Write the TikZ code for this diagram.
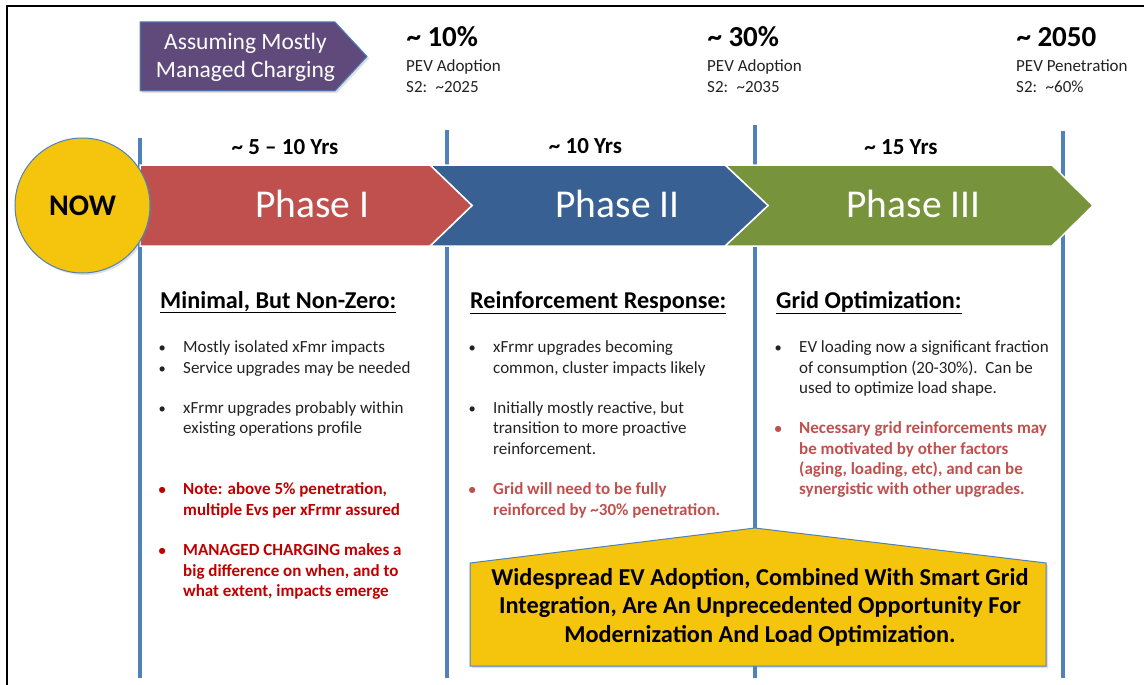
\documentclass[tikz,border=0pt]{standalone}
\usepackage{fontspec}
\setmainfont{Carlito}
\usetikzlibrary{shadows}
\definecolor{phasered}{HTML}{C0504D}
\definecolor{phaseblue}{HTML}{386092}
\definecolor{phasegreen}{HTML}{77933C}
\definecolor{nowgold}{HTML}{F5C40C}
\definecolor{markblue}{HTML}{4F81BD}
\definecolor{purplebox}{HTML}{604A7B}
\definecolor{darkred}{HTML}{C00000}
\definecolor{softred}{HTML}{C0504D}
\definecolor{bodygray}{HTML}{222222}
\newcommand\stack[2][l]{\begin{tabular}[t]{@{}#1@{}}#2\end{tabular}}
\newcommand\bul{\makebox[21pt][l]{\makebox[0pt]{\fontsize{14.5}{14.5}\selectfont\textbullet}}}
\newcommand\ind{\hspace*{21pt}}

\begin{document}
\begin{tikzpicture}[x=1pt,y=-1pt,
    mark line/.style={color=markblue,line width=3.4pt},
    phase/.style={draw=white,line width=1.5pt},
    phase label/.style={anchor=base,text=white,font=\fontsize{39.5}{47}\selectfont},
    yrs/.style={anchor=base,font=\bfseries\fontsize{23}{27}\selectfont},
    big value/.style={anchor=base west,font=\bfseries\fontsize{29}{34}\selectfont},
    small value/.style={anchor=base west,inner sep=0pt,text=bodygray,font=\fontsize{17}{21}\selectfont},
    head/.style={anchor=base west,inner sep=0pt,font=\bfseries\fontsize{24.2}{28}\selectfont},
    body/.style={anchor=base west,inner sep=0pt,text=bodygray,font=\fontsize{17}{20.3}\selectfont},
    soft/.style={drop shadow={opacity=.25,shadow xshift=2pt,shadow yshift=-2pt}}]
\useasboundingbox (0,0) rectangle (1144,685);

\draw[line width=2.5pt] (7,685) -- (7,6) -- (1144,6);

\draw[mark line] (140,138) -- (140,678);
\draw[mark line] (447,130) -- (447,678);
\draw[mark line] (755,125) -- (755,678);
\draw[mark line] (1063,131) -- (1063,678);

\draw[phase,fill=phasegreen] (725,165) -- (1052,165) -- (1093,205.5) -- (1052,246) -- (725,246) -- (768,205.5) -- cycle;
\draw[phase,fill=phaseblue] (430,165) -- (725,165) -- (768,205.5) -- (725,246) -- (430,246) -- (472,205.5) -- cycle;
\draw[phase,fill=phasered] (140,165) -- (430,165) -- (472,205.5) -- (430,246) -- (140,246) -- cycle;

\node[phase label] (ph1) at (312.5,217) {Phase I};
\node[phase label] (ph2) at (617.5,217) {Phase II};
\node[phase label] (ph3) at (913.5,217) {Phase III};

\node[circle,fill=nowgold,draw=markblue,line width=1pt,minimum size=135pt,inner sep=0pt,soft,
  font=\bfseries\fontsize{30}{36}\selectfont] (now) at (82.5,205.5) {NOW};

\node[yrs] (yrs1) at (285,154) {\textasciitilde{} 5 – 10 Yrs};
\node[yrs] (yrs2) at (585.5,153) {\textasciitilde{} 10 Yrs};
\node[yrs] (yrs3) at (901,154) {\textasciitilde{} 15 Yrs};

\draw[fill=purplebox,draw=markblue,line width=1pt,soft] (140,22) -- (335,22) -- (367,56.5) -- (335,91) -- (140,91) -- cycle;
\node[anchor=base,text=white,inner sep=0pt,font=\fontsize{23.5}{28}\selectfont] (assume) at (245.5,50)
  {\stack[c]{Assuming Mostly\\Managed Charging}};

\node[big value] (v10) at (403,47) {\textasciitilde{} 10\%};
\node[small value] (s10) at (406,71) {\stack{PEV Adoption\\S2:\enspace\textasciitilde 2025}};
\node[big value] (v30) at (704,47) {\textasciitilde{} 30\%};
\node[small value] (s30) at (707,71) {\stack{PEV Adoption\\S2:\enspace\textasciitilde 2035}};
\node[big value] (v2050) at (1013,47) {\textasciitilde{} 2050};
\node[small value] (s2050) at (1016,71) {\stack{PEV Penetration\\S2:\enspace\textasciitilde 60\%}};

\node[head] (h1) at (160,308) {\underline{Minimal, But Non-Zero:}};
\node[head] (h2) at (470,308) {\underline{Reinforcement Response:}};
\node[head] (h3) at (776,308) {\underline{Grid Optimization:}};

\node[body] (list1) at (162,352.7) {\stack{%
\bul Mostly isolated xFmr impacts\\
\bul Service upgrades may be needed\\[20.3pt]
\bul xFrmr upgrades probably within\\
\ind existing operations profile\\[40.6pt]
{\color{darkred}\bfseries\bul Note: above 5\% penetration,}\\
{\color{darkred}\bfseries\ind multiple Evs per xFrmr assured}\\[20.3pt]
{\color{darkred}\bfseries\bul MANAGED CHARGING makes a}\\
{\color{darkred}\bfseries\ind big difference on when, and to}\\
{\color{darkred}\bfseries\ind what extent, impacts emerge}}};

\node[body] (list2) at (472,352.7) {\stack{%
\bul xFrmr upgrades becoming\\
\ind common, cluster impacts likely\\[20.3pt]
\bul Initially mostly reactive, but\\
\ind transition to more proactive\\
\ind reinforcement.\\[20.3pt]
{\color{softred}\bfseries\bul Grid will need to be fully}\\
{\color{softred}\bfseries\ind reinforced by \textasciitilde 30\% penetration.}}};

\node[body] (list3) at (778,352.7) {\stack{%
\bul EV loading now a significant fraction\\
\ind of consumption (20-30\%).\ \ Can be\\
\ind used to optimize load shape.\\[20.3pt]
{\color{softred}\bfseries\bul Necessary grid reinforcements may}\\
{\color{softred}\bfseries\ind be motivated by other factors}\\
{\color{softred}\bfseries\ind (aging, loading, etc), and can be}\\
{\color{softred}\bfseries\ind synergistic with other upgrades.}}};

\draw[fill=nowgold,draw=markblue,line width=1pt,soft] (470,563) -- (755,528) -- (1046,563) -- (1046,666) -- (470,666) -- cycle;
\node[anchor=base,inner sep=0pt,font=\bfseries\fontsize{24.3}{28.5}\selectfont] (wide) at (760,585)
  {\stack[c]{Widespread EV Adoption, Combined With Smart Grid\\
  Integration, Are An Unprecedented Opportunity For\\
  Modernization And Load Optimization.}};

\end{tikzpicture}
\end{document}
